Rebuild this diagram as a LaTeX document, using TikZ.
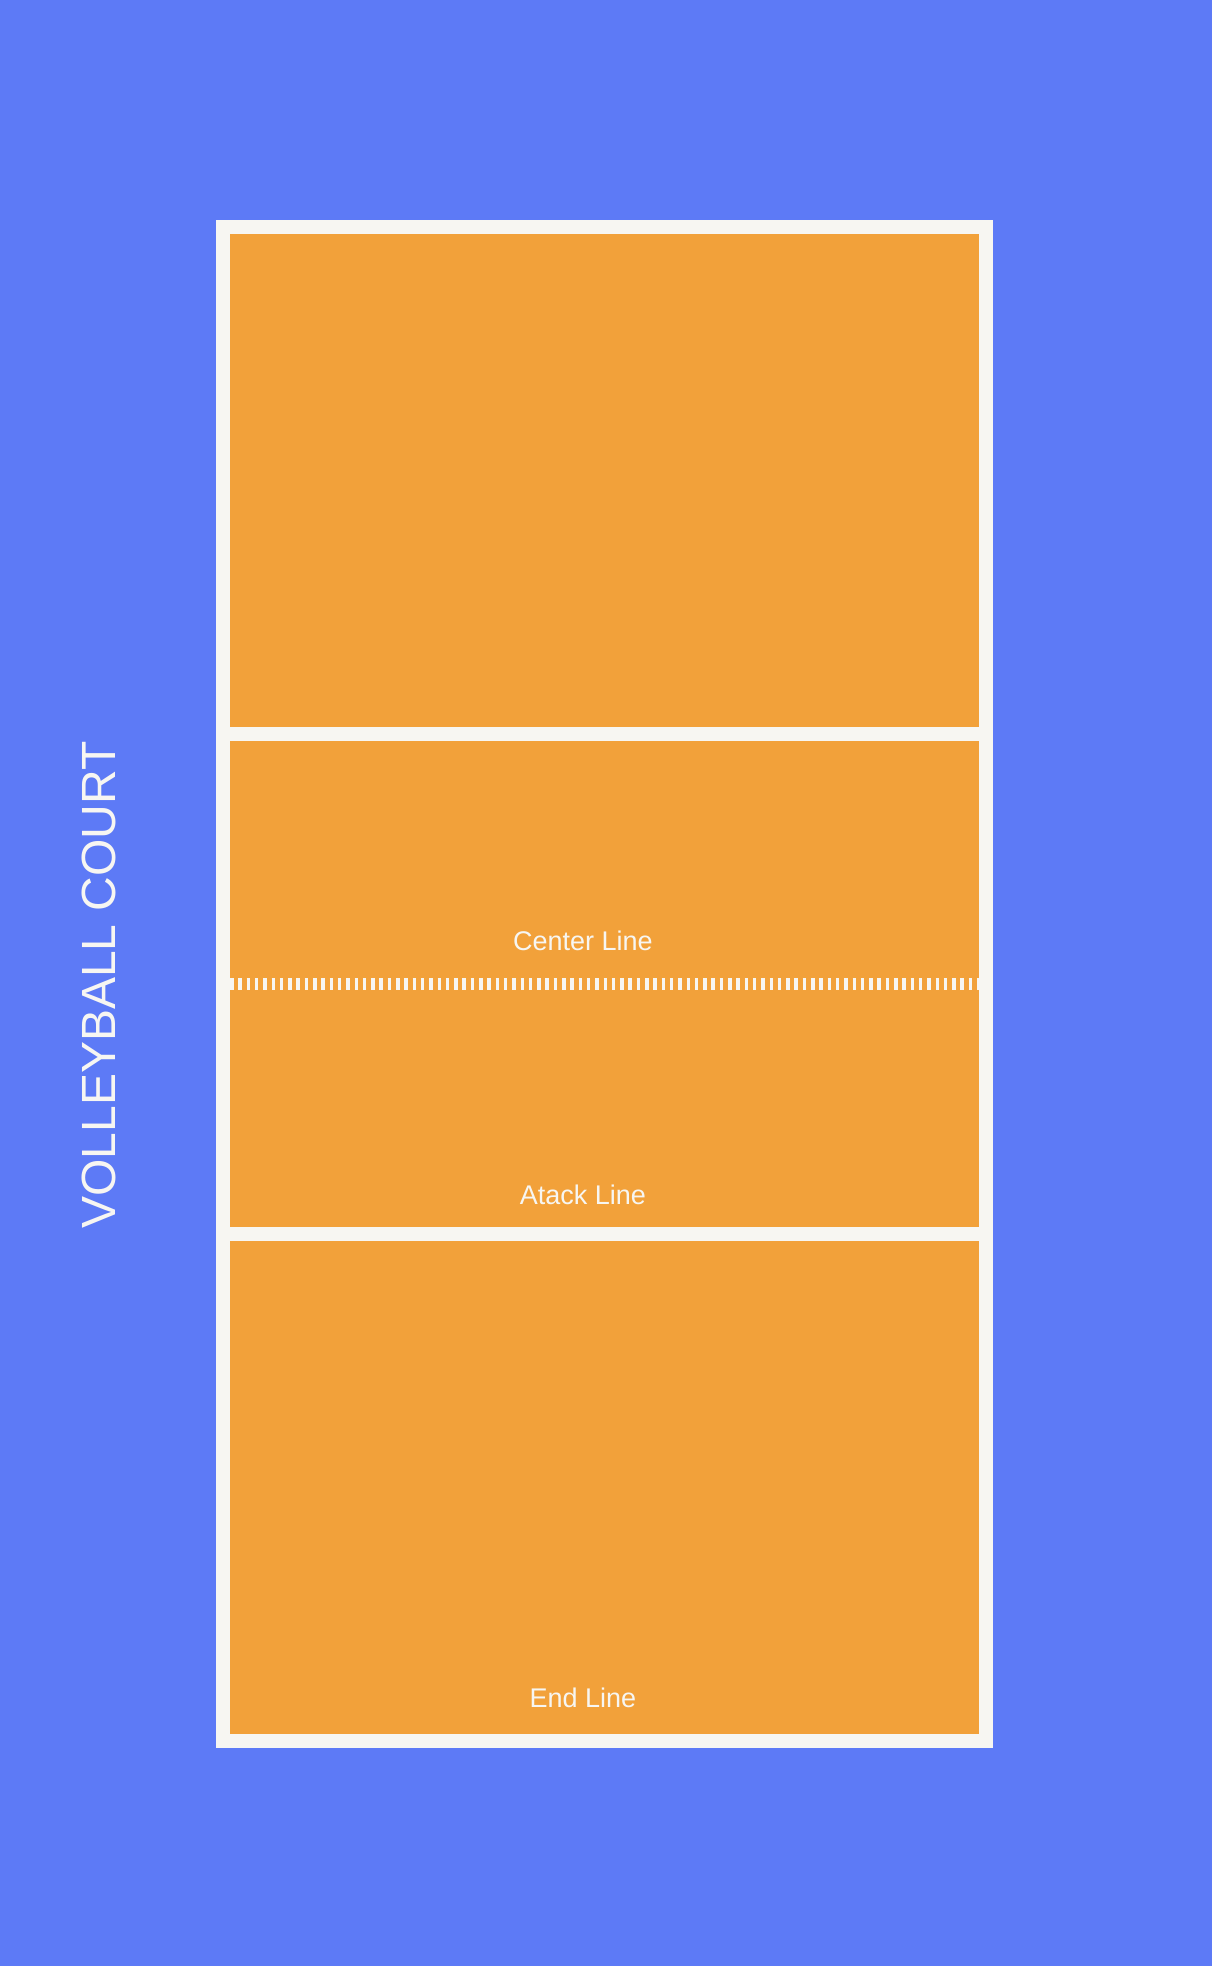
\documentclass[tikz,border=0pt]{standalone}
\usepackage{fontspec}
\setmainfont{Liberation Sans}
\definecolor{bgblue}{HTML}{5D7AF6}
\definecolor{courtorange}{HTML}{F2A13A}
\definecolor{linewhite}{HTML}{F7F6F2}
\begin{document}
\begin{tikzpicture}[x=1pt,y=-1pt,
  courtline/.style={draw=linewhite,line width=14pt},
  lbl/.style={text=linewhite,font=\fontsize{27}{30}\selectfont,inner sep=0pt,anchor=base},
  ttl/.style={text=linewhite,font=\fontsize{48}{52}\selectfont,inner sep=0pt,rotate=90}]
\fill[bgblue] (0,0) rectangle (1212,1966);
\useasboundingbox (0,0) rectangle (1212,1966);
% court
\fill[courtorange] (223,227) rectangle (986,1741);
\draw[courtline] (223,227) rectangle (986,1741);
\coordinate (aL) at (223,734);
\coordinate (aR) at (986,734);
\coordinate (bL) at (223,1234);
\coordinate (bR) at (986,1234);
\draw[courtline] (aL) -- (aR);
\draw[courtline] (bL) -- (bR);
\coordinate (cL) at (230,984);
\coordinate (cR) at (979,984);
\draw[draw=linewhite,line width=12pt,dash pattern=on 3.5pt off 4.8pt] (cL) -- (cR);
% labels
\node[lbl] (center) at (583,950) {Center Line};
\node[lbl] (atack) at (583,1204) {Atack Line};
\node[lbl] (end) at (583,1707) {End Line};
\node[ttl] (title) at (99,985) {VOLLEYBALL COURT};
\end{tikzpicture}
\end{document}
